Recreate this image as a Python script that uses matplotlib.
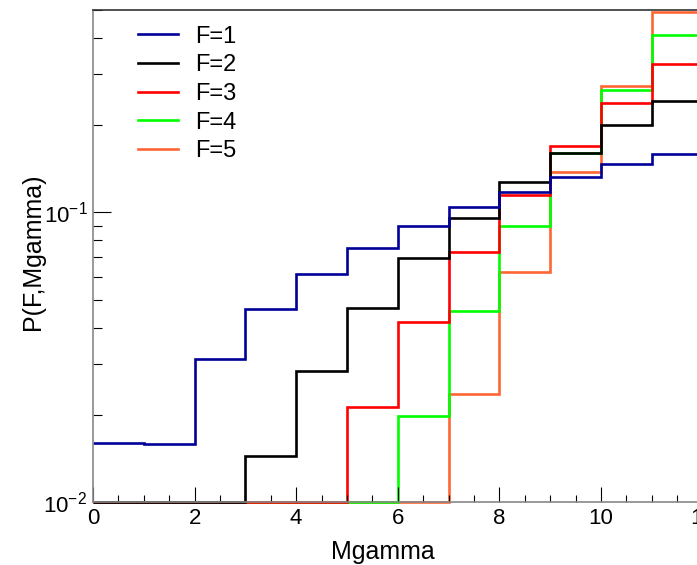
import numpy as np
import matplotlib
matplotlib.use("Agg")
import matplotlib.pyplot as plt
from matplotlib.ticker import MultipleLocator, LogLocator, NullFormatter

plt.rcParams['font.family'] = ['Liberation Sans', 'DejaVu Sans']
plt.rcParams['mathtext.default'] = 'regular'

# bin edges of Mgamma
edges = np.arange(0, 13, 1)

# P(F, Mgamma) per bin (0 = empty bin)
p_f1 = [0.0160, 0.0159, 0.0312, 0.0465, 0.0611, 0.0755, 0.0897, 0.104, 0.118, 0.1325, 0.1465, 0.159]
p_f2 = [0, 0, 0, 0.01445, 0.0283, 0.0469, 0.0698, 0.0959, 0.127, 0.1607, 0.2006, 0.2426]
p_f3 = [0, 0, 0, 0, 0, 0.0213, 0.0419, 0.0730, 0.1153, 0.1694, 0.2393, 0.326]
p_f4 = [0, 0, 0, 0, 0, 0, 0.01987, 0.0457, 0.0900, 0.160, 0.265, 0.410]
p_f5 = [0, 0, 0, 0, 0, 0, 0, 0.0236, 0.0622, 0.138, 0.2725, 0.491]

labels = ['F=1', 'F=2', 'F=3', 'F=4', 'F=5']
colors = ['#000099', 'black', '#ff0000', '#00ff00', '#ff6633']
series = [p_f1, p_f2, p_f3, p_f4, p_f5]

ymin, ymax = 0.01, 0.5

fig = plt.figure(figsize=(6.97, 5.65), dpi=100)
ax = fig.add_axes([0.1334, 0.1115, 0.8746, 0.8708])

# draw F=5 first so that lower F lies on top along the bottom edge
for vals, col, lab in reversed(list(zip(series, colors, labels))):
    v = np.clip(np.array(vals, dtype=float), ymin, None)
    ax.stairs(v, edges, baseline=None, color=col, lw=1.9, label=lab, clip_on=False)

ax.set_yscale('log')
ax.set_xlim(0, 12)
ax.set_ylim(ymin, ymax)

ax.xaxis.set_major_locator(MultipleLocator(2))
ax.xaxis.set_minor_locator(MultipleLocator(0.5))
ax.yaxis.set_major_locator(LogLocator(base=10))
ax.yaxis.set_minor_locator(LogLocator(base=10, subs=np.arange(2, 10)))
ax.yaxis.set_minor_formatter(NullFormatter())

ax.tick_params(axis='both', which='both', direction='in', top=False, right=False,
               labelsize=16, colors='black')
ax.tick_params(axis='x', which='major', length=10.8, width=0.8, pad=4)
ax.tick_params(axis='x', which='minor', length=5, width=0.8)
ax.tick_params(axis='y', which='major', length=13, width=0.8, pad=4)
ax.tick_params(axis='y', which='minor', length=6.5, width=0.8)

ax.spines['top'].set_color('#333333')
ax.spines['left'].set_color('#888888')
ax.spines['bottom'].set_color('#888888')
ax.spines['right'].set_visible(False)
for s in ax.spines.values():
    s.set_linewidth(1.2)

ax.set_xlabel('Mgamma', fontsize=18)
ax.set_ylabel('P(F,Mgamma)', fontsize=18)
ax.xaxis.set_label_coords(0.476, -0.1016)
ax.yaxis.set_label_coords(-0.098, 0.508)
ax.xaxis.label.set_va('center')
ax.yaxis.label.set_va('center')

handles, labs = ax.get_legend_handles_labels()
leg = ax.legend(handles[::-1], labs[::-1], loc='upper left', bbox_to_anchor=(0.074, 0.968),
                frameon=False, fontsize=17, handlelength=1.7, handletextpad=0.72,
                labelspacing=0.28, borderpad=0, borderaxespad=0)
for h in leg.get_lines():
    h.set_linewidth(1.9)

fig.savefig('out.png', dpi=100)
